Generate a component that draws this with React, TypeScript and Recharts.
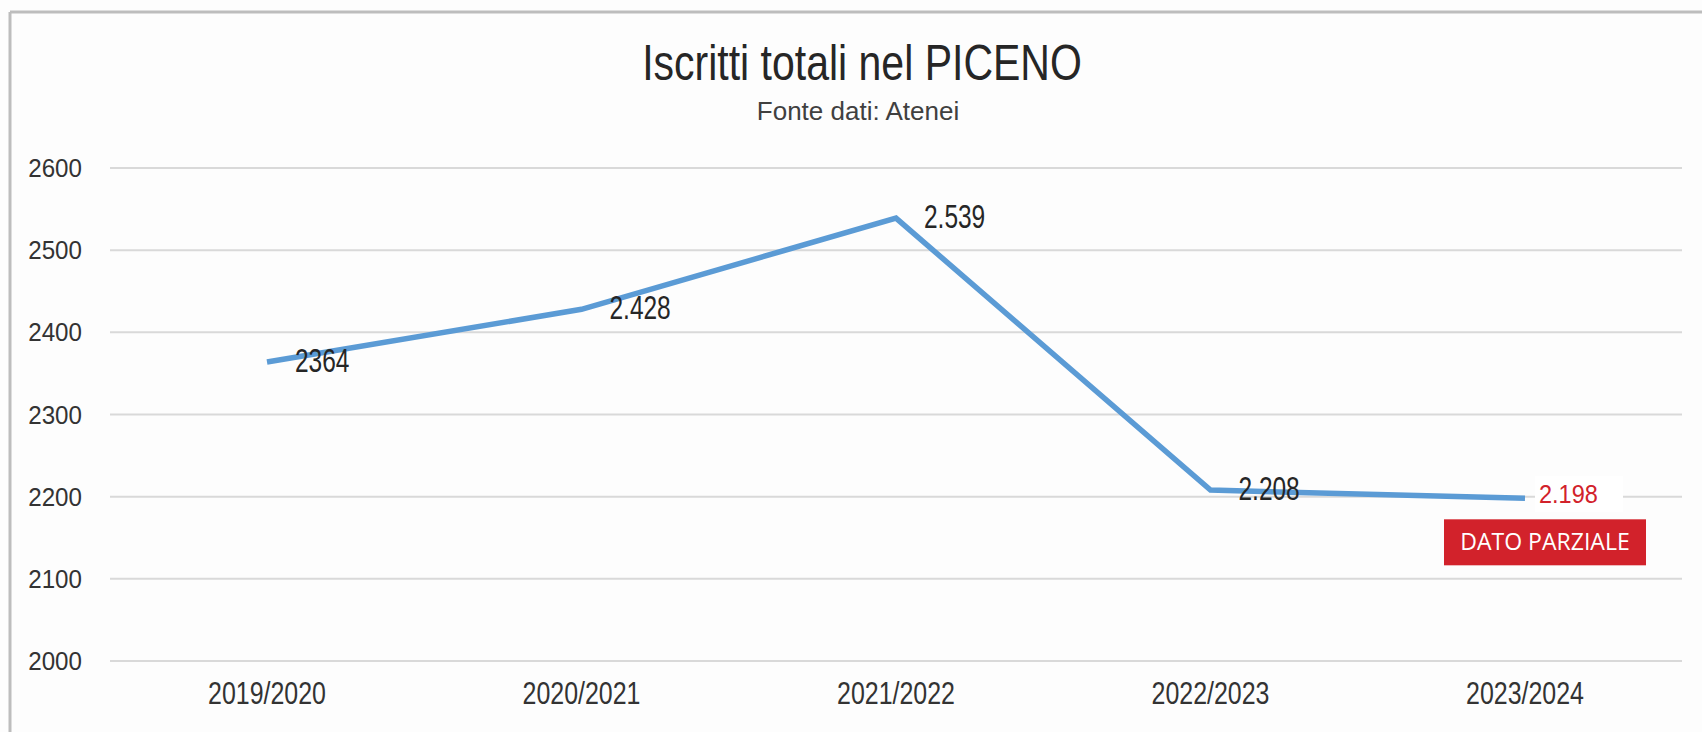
import React from "react";
import { LineChart, Line, XAxis, YAxis, CartesianGrid, LabelList } from "recharts";

// anni accademici e iscritti
const anni = ["2019/2020", "2020/2021", "2021/2022", "2022/2023", "2023/2024"];
const iscritti = [2364, 2428, 2539, 2208, 2198];
const etichette = ["2364", "2.428", "2.539", "2.208", "2.198"];
const yTicks = [2000, 2100, 2200, 2300, 2400, 2500, 2600];
const ultimoParziale = "DATO PARZIALE";

const ARIAL = "'Liberation Sans', Arial, sans-serif";
const RED = "#D2222B";

const data = anni.map((anno, i) => ({ anno, iscritti: iscritti[i], etichetta: etichette[i] }));

// testo "stretto" come l'Arial Narrow dell'originale
const SText = ({ x, y, sx = 1, anchor = "start", size, fill = "#262626", family = ARIAL, children }: any) => (
  <text
    transform={`translate(${x},${y}) scale(${sx},1)`}
    textAnchor={anchor}
    fontFamily={family}
    fontSize={size}
    fill={fill}
  >
    {children}
  </text>
);

const YTick = ({ x, y, payload }: any) => (
  <SText x={x} y={y + 9} sx={0.93} anchor="end" size={26} fill="#333">
    {payload.value}
  </SText>
);

const XTick = ({ x, y, payload }: any) => (
  <SText x={x} y={y + 18} sx={0.78} anchor="middle" size={32} fill="#333">
    {payload.value}
  </SText>
);

const renderLabel = (props: any) => {
  const { x, y, index } = props;
  const testo = etichette[index];
  if (index === etichette.length - 1) {
    return (
      <g>
        <rect x={x + 10} y={y - 22} width={88} height={36} fill="#fff" />
        <SText x={x + 14} y={y + 5} sx={0.94} size={25} fill={RED}>
          {testo}
        </SText>
        <rect x={x - 81} y={y + 21} width={202} height={46} fill={RED} />
        <SText x={x + 20} y={y + 52} sx={0.96} anchor="middle" family="'Open Sans', sans-serif" size={24} fill="#fff">
          {ultimoParziale}
        </SText>
      </g>
    );
  }
  return (
    <SText x={x + 28} y={y + 10} sx={0.72} size={34}>
      {testo}
    </SText>
  );
};

export default function App() {
  return (
    <div style={{ position: "absolute", left: 0, top: 0, width: 1702, height: 732, background: "#fff" }}>
      <LineChart
        width={1702}
        height={732}
        data={data}
        margin={{ top: 168, right: 20, bottom: 0, left: 0 }}
        style={{ background: "#fdfdfd" }}
      >
        <CartesianGrid vertical={false} stroke="#d9d9d9" strokeWidth={2} />
        <XAxis
          dataKey="anno"
          height={71}
          axisLine={false}
          tickLine={false}
          tickSize={0}
          tickMargin={25}
          padding={{ left: 157, right: 157 }}
          tick={<XTick />}
        />
        <YAxis
          width={110}
          domain={[2000, 2600]}
          ticks={yTicks}
          axisLine={false}
          tickLine={false}
          tickSize={0}
          tickMargin={28}
          tick={<YTick />}
        />
        <Line
          type="linear"
          dataKey="iscritti"
          stroke="#5B9BD5"
          strokeWidth={5.5}
          dot={false}
          activeDot={false}
          isAnimationActive={false}
        >
          <LabelList dataKey="etichetta" content={renderLabel} />
        </Line>
      </LineChart>
      <svg width={1702} height={732} style={{ position: "absolute", left: 0, top: 0, pointerEvents: "none" }}>
        <line x1={10} y1={12} x2={1702} y2={12} stroke="#bdbdbd" strokeWidth={3} />
        <line x1={10} y1={12} x2={10} y2={732} stroke="#bdbdbd" strokeWidth={3} />
        <SText x={862} y={80} sx={0.82} anchor="middle" size={50}>
          Iscritti totali nel PICENO
        </SText>
        <SText x={858} y={120} anchor="middle" size={26} fill="#404040">
          Fonte dati: Atenei
        </SText>
      </svg>
    </div>
  );
}
